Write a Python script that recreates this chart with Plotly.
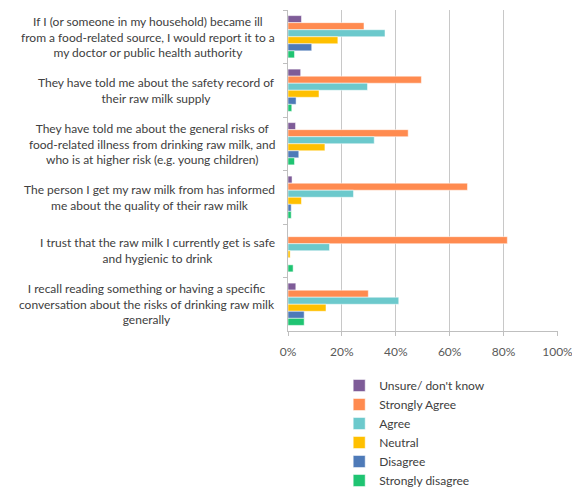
import plotly.graph_objects as go

categories = [
    "If I (or someone in my household) became ill<br>from a food-related source, I would report it to a<br>my doctor or public health authority",
    "They have told me about the safety record of<br>their raw milk supply",
    "They have told me about the general risks of<br>food-related illness from drinking raw milk, and<br>who is at higher risk (e.g. young children)",
    "The person I get my raw milk from has informed<br>me about the quality of their raw milk",
    "I trust that the raw milk I currently get is safe<br>and hygienic to drink",
    "I recall reading something or having a specific<br>conversation about the risks of drinking raw milk<br>generally",
]

series_names = ["Unsure/ don't know", "Strongly Agree", "Agree", "Neutral", "Disagree", "Strongly disagree"]

unsure = [5.0, 4.7, 2.8, 1.5, 0.0, 2.9]
strongly_agree = [28.2, 49.5, 44.6, 66.6, 81.4, 29.8]
agree = [36.0, 29.5, 32.0, 24.3, 15.4, 41.1]
neutral = [18.5, 11.5, 13.7, 5.0, 0.8, 14.1]
disagree = [8.8, 3.0, 4.0, 1.2, 0.0, 6.0]
strongly_disagree = [2.4, 1.4, 2.4, 1.2, 1.9, 6.0]

series_values = [unsure, strongly_agree, agree, neutral, disagree, strongly_disagree]
colors = ["#7E5C98", "#FF8B50", "#6CC9CC", "#FFC000", "#4E7AB8", "#1FC472"]

x_ticks = [0, 0.2, 0.4, 0.6, 0.8, 1.0]

fig = go.Figure()
for name, vals, col in zip(series_names, series_values, colors):
    fig.add_trace(go.Bar(
        y=categories,
        x=[v / 100 for v in vals],
        name=name,
        orientation="h",
        marker=dict(color=col, line=dict(color="white", width=0.5)),
    ))

font_fam = "Lato, 'Open Sans', sans-serif"
for cat in categories:
    fig.add_annotation(
        x=-0.0425, xref="paper", y=cat, yref="y",
        text=cat, showarrow=False, xanchor="right", yanchor="middle",
        align="center", font=dict(family=font_fam, size=12, color="#404040"),
    )

fig.update_layout(
    width=572, height=492,
    margin=dict(l=287.5, r=14, t=10, b=161, autoexpand=False),
    paper_bgcolor="white", plot_bgcolor="white",
    barmode="group", bargap=0.21, bargroupgap=0,
    font=dict(family=font_fam, size=12, color="#595959"),
    showlegend=True,
    legend=dict(
        x=0.593, y=1 - 371 / 492, xref="container", yref="container",
        xanchor="left", yanchor="top",
        orientation="v", traceorder="normal",
        font=dict(family=font_fam, size=12, color="#404040"),
        bgcolor="rgba(0,0,0,0)",
    ),
    xaxis=dict(
        range=[0, 1.002], tickvals=x_ticks, tickformat=".0%",
        showgrid=True, gridcolor="#C8C8C8", gridwidth=1,
        showline=True, linecolor="#BFBFBF", linewidth=1,
        ticks="outside", ticklen=4, tickcolor="#BFBFBF",
        ticklabelstandoff=6, ticklabeloverflow="allow",
        zeroline=False, fixedrange=True,
        tickfont=dict(family=font_fam, size=12, color="#595959"),
    ),
    yaxis=dict(
        type="category", categoryorder="array", categoryarray=categories,
        autorange="reversed", showticklabels=False,
        showline=True, linecolor="#BFBFBF", linewidth=1,
        ticks="outside", ticklen=4, tickcolor="#BFBFBF", tickson="boundaries",
        showgrid=False, zeroline=False,
    ),
)

fig.write_html("out.html")
